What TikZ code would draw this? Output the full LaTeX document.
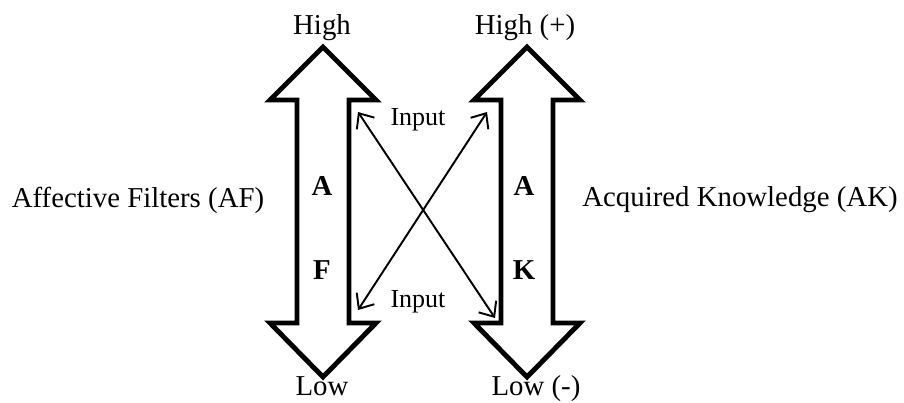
\documentclass[tikz,border=0pt]{standalone}
\usepackage{fontspec}
\setmainfont{Liberation Serif}
\usetikzlibrary{arrows.meta}

\begin{document}
\begin{tikzpicture}[
    bigarrow/.style={line width=2.8pt, line join=miter},
    link/.style={line width=1.1pt, {Straight Barb[length=7pt,width=12pt]}-{Straight Barb[length=7pt,width=12pt]}},
    lbl/.style={font=\fontsize{16.4}{18}\selectfont, inner sep=0pt},
    letter/.style={font=\fontsize{16.4}{18}\selectfont\bfseries, inner sep=0pt},
    small/.style={font=\fontsize{14.8}{16}\selectfont, inner sep=0pt}
]
    \useasboundingbox (0,0) rectangle (18.08,8.06);
    % affective filters : double arrow
    \draw[bigarrow] (6.46,7.12) -- (7.52,6.06) -- (6.98,6.06) -- (6.98,1.60) -- (7.52,1.60)
        -- (6.46,0.52) -- (5.40,1.60) -- (5.94,1.60) -- (5.94,6.06) -- (5.40,6.06) -- cycle;
    % acquired knowledge : double arrow
    \draw[bigarrow] (10.54,7.12) -- (11.60,6.06) -- (11.06,6.06) -- (11.06,1.60) -- (11.60,1.60)
        -- (10.54,0.52) -- (9.48,1.60) -- (10.02,1.60) -- (10.02,6.06) -- (9.48,6.06) -- cycle;
    % ends of the input arrows
    \coordinate (afhigh) at (7.16,5.82);
    \coordinate (aflow)  at (7.16,1.86);
    \coordinate (akhigh) at (9.74,5.82);
    \coordinate (aklow)  at (9.90,1.70);
    \draw[link] (afhigh) -- (aklow);
    \draw[link] (aflow) -- (akhigh);
    % labels
    \node[lbl, anchor=base] (afhightxt) at (6.44,7.36) {High};
    \node[lbl, anchor=base] (aflowtxt)  at (6.44,0.15) {Low};
    \node[lbl, anchor=base] (akhightxt) at (10.50,7.36) {High (+)};
    \node[lbl, anchor=base] (aklowtxt)  at (10.72,0.15) {Low (-)};
    \node[lbl] (aftxt) at (2.76,4.06) {Affective Filters (AF)};
    \node[lbl] (aktxt) at (14.80,4.06) {Acquired Knowledge (AK)};
    \node[small] (intop) at (8.36,5.66) {Input};
    \node[small] (inbot) at (8.36,2.02) {Input};
    % letters in the shafts
    \node[letter] (afa) at (6.44,4.34) {A};
    \node[letter] (aff) at (6.44,2.66) {F};
    \node[letter] (aka) at (10.48,4.34) {A};
    \node[letter] (akk) at (10.48,2.66) {K};
\end{tikzpicture}
\end{document}
